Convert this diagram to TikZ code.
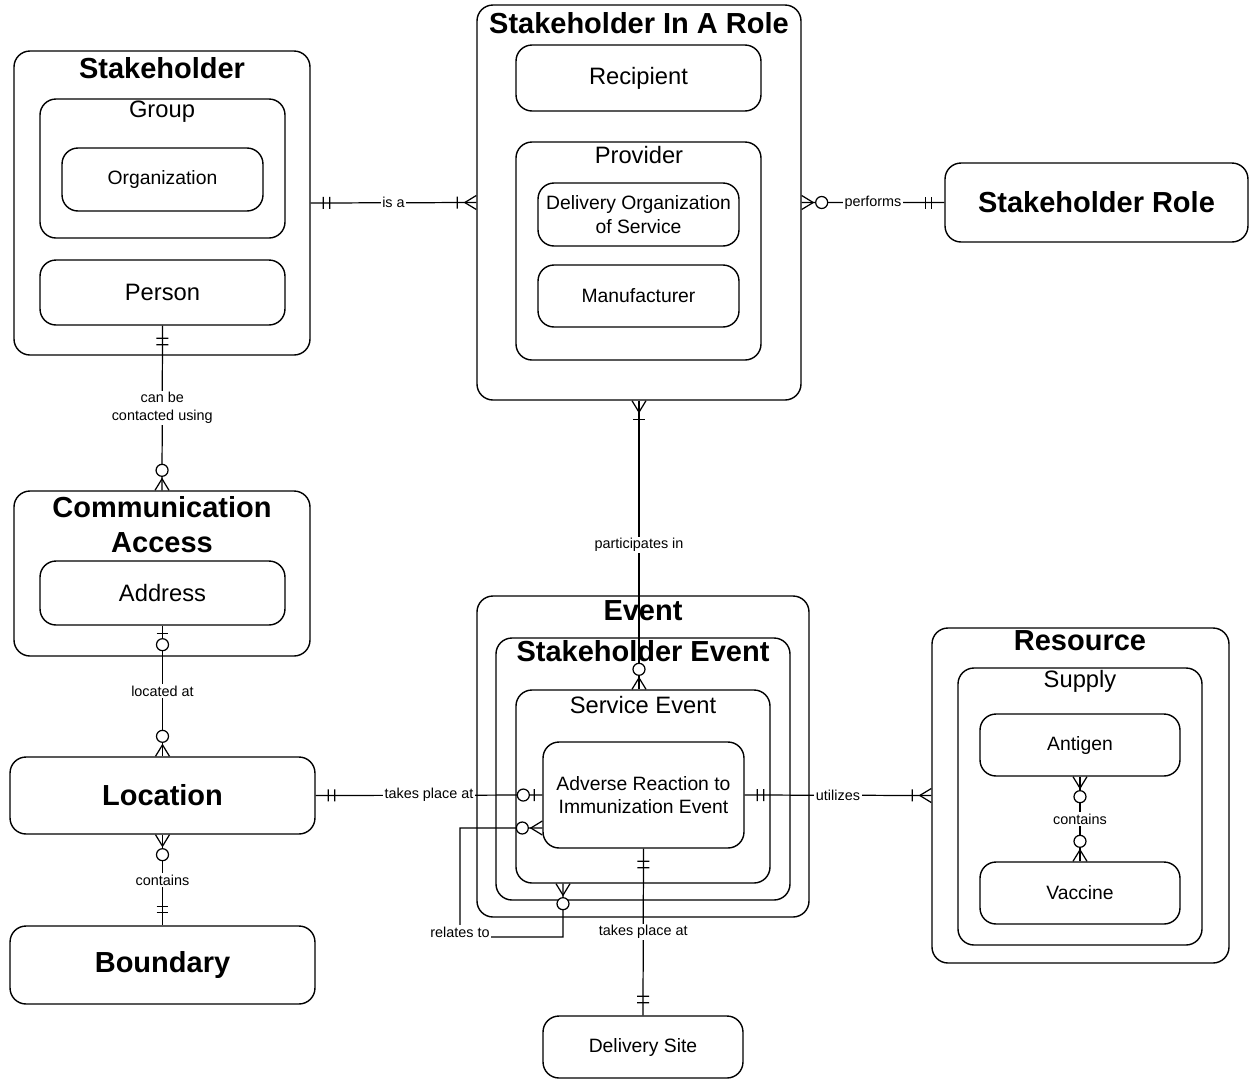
\documentclass[tikz,border=0pt]{standalone}
\usepackage{fontspec}
\setmainfont{Liberation Sans}
\usepackage{tikz}
\usetikzlibrary{decorations.markings}
\usetikzlibrary{calc}
\usetikzlibrary{positioning}
\usetikzlibrary{fit}

\tikzset{
	box/.style={draw, line width=0.8pt, rounded corners=0.32cm, inner sep=0pt, align=center},
	ttl/.style={font=\fontsize{16.5}{19.8}\selectfont\bfseries, align=center},
	sub/.style={font=\fontsize{13.5}{16}\selectfont},
	sml/.style={font=\fontsize{11}{13.4}\selectfont},
	lbl/.style={font=\fontsize{8.2}{10.2}\selectfont, fill=white, inner sep=1pt, align=center},
	erline/.style={draw, line width=0.7pt},
	erbar/.style={postaction={decorate,decoration={markings,
		mark=at position #1 with {\draw[line width=0.7pt] (0,-0.12cm) -- (0,0.12cm);}}}},
	erring/.style={postaction={decorate,decoration={markings,
		mark=at position #1 with {\draw[line width=0.7pt, fill=white] (0,0) circle[radius=0.12cm];}}}},
	footS/.style={postaction={decorate,decoration={markings,
		mark=at position 0.23cm with {\draw[line width=0.7pt] (-0.23cm,0.14cm) -- (0,0) -- (-0.23cm,-0.14cm);}}}},
	footE/.style={postaction={decorate,decoration={markings,
		mark=at position -0.23cm with {\draw[line width=0.7pt] (0.23cm,0.14cm) -- (0,0) -- (0.23cm,-0.14cm);}}}},
	oneS/.style={erbar=0.25cm, erbar=0.38cm},
	oneE/.style={erbar=-0.38cm, erbar=-0.25cm},
	manyS/.style={footS, erbar=0.38cm},
	manyE/.style={erbar=-0.38cm, footE},
	zmanyS/.style={footS, erring=0.4cm},
	zmanyE/.style={erring=-0.4cm, footE},
	zoneS/.style={erbar=0.16cm, erring=0.38cm},
	zoneE/.style={erring=-0.38cm, erbar=-0.16cm}
}

\begin{document}
\begin{tikzpicture}[x=0.02cm,y=-0.02cm]
	\useasboundingbox (0,0) rectangle (1249,1080);

	% stakeholder
	\node[box, fit={(14,51) (310,355)}] (stake) {};
	\draw (162,68) node[ttl] (stakeT) {Stakeholder};
	\node[box, fit={(40,99) (285,238)}] (group) {};
	\draw (162,112) node[sub] (groupT) {Group};
	\node[box, sml, minimum width=4.02cm, minimum height=1.26cm] (org) at (162.5,179.5) {Organization};
	\node[box, sub, minimum width=4.9cm, minimum height=1.3cm] (person) at (162.5,292.5) {Person};

	% stakeholder in a role
	\node[box, fit={(477,5) (801,400)}] (siar) {};
	\draw (639,23) node[ttl] (siarT) {Stakeholder In A Role};
	\node[box, sub, minimum width=4.9cm, minimum height=1.32cm] (recip) at (638.5,78) {Recipient};
	\node[box, fit={(516,142) (761,360)}] (prov) {};
	\draw (639,155) node[sub] (provT) {Provider};
	\node[box, sml, minimum width=4.02cm, minimum height=1.26cm] (dorg) at (638.5,214.5) {Delivery Organization\\of Service};
	\node[box, sml, minimum width=4.02cm, minimum height=1.24cm] (manu) at (638.5,296) {Manufacturer};

	\node[box, ttl, minimum width=6.06cm, minimum height=1.58cm] (role) at (1096.5,202.5) {Stakeholder Role};

	% communication, location
	\node[box, fit={(14,491) (310,656)}] (comm) {};
	\draw (162,525) node[ttl] (commT) {Communication\\Access};
	\node[box, sub, minimum width=4.9cm, minimum height=1.28cm] (addr) at (162.5,593) {Address};
	\node[box, ttl, minimum width=6.1cm, minimum height=1.54cm] (loc) at (162.5,795.5) {Location};
	\node[box, ttl, minimum width=6.1cm, minimum height=1.56cm] (bound) at (162.5,965) {Boundary};

	% event
	\node[box, fit={(477,596) (809,917)}] (event) {};
	\draw (643,611) node[ttl] (eventT) {Event};
	\node[box, fit={(496,638) (790,900)}] (sevent) {};
	\draw (643,651) node[ttl] (seventT) {Stakeholder Event};
	\node[box, fit={(516,690) (770,883)}] (svc) {};
	\draw (643,705) node[sub] (svcT) {Service Event};
	\node[box, sml, minimum width=4.02cm, minimum height=2.12cm] (adv) at (643.5,795) {Adverse Reaction to\\Immunization Event};
	\node[box, sml, minimum width=4cm, minimum height=1.24cm] (dsite) at (643,1047) {Delivery Site};

	% resource
	\node[box, fit={(932,628) (1229,963)}] (res) {};
	\draw (1080,641) node[ttl] (resT) {Resource};
	\node[box, fit={(958,668) (1202,945)}] (supply) {};
	\draw (1080,681) node[sub] (supplyT) {Supply};
	\node[box, sml, minimum width=4cm, minimum height=1.24cm] (antigen) at (1080,745) {Antigen};
	\node[box, sml, minimum width=4cm, minimum height=1.24cm] (vaccine) at (1080,893) {Vaccine};

	% relationships
	\draw[erline, oneS, manyE] (stake.east) -- node[lbl] {is a} (siar.west);
	\draw[erline, zmanyS, oneE] (siar.east) -- node[lbl] {performs} (role.west);
	\draw[erline, oneS, zmanyE] (person.south) -- node[lbl] {can be\\contacted using} (comm.north);
	\draw[erline, zoneS, zmanyE] (addr.south) -- node[lbl] {located at} (loc.north);
	\draw[erline, zmanyS, oneE] (loc.south) -- node[lbl] {contains} (bound.north);
	\draw[erline, manyS, zmanyE] (siar.south) -- node[lbl] {participates in} (siar.south |- svc.north);
	\draw[erline, oneS, zoneE] (loc.east) -- node[lbl] {takes place at} (adv.west);
	\draw[erline, oneS, manyE] (adv.east) -- node[lbl] {utilizes} (res.west);
	\draw[erline, zmanyS, zmanyE] (antigen.south) -- node[lbl] {contains} (vaccine.north);
	\draw[erline, oneS, oneE] (adv.south) -- node[lbl] {takes place at} (dsite.north);
	\draw[erline, zmanyS, zmanyE] ([yshift=-0.66cm]adv.west) -| (460,937)
		node[lbl, anchor=base] (relT) {relates to} -- (563,937) -- ([xshift=-1.6cm]svc.south);
\end{tikzpicture}
\end{document}
